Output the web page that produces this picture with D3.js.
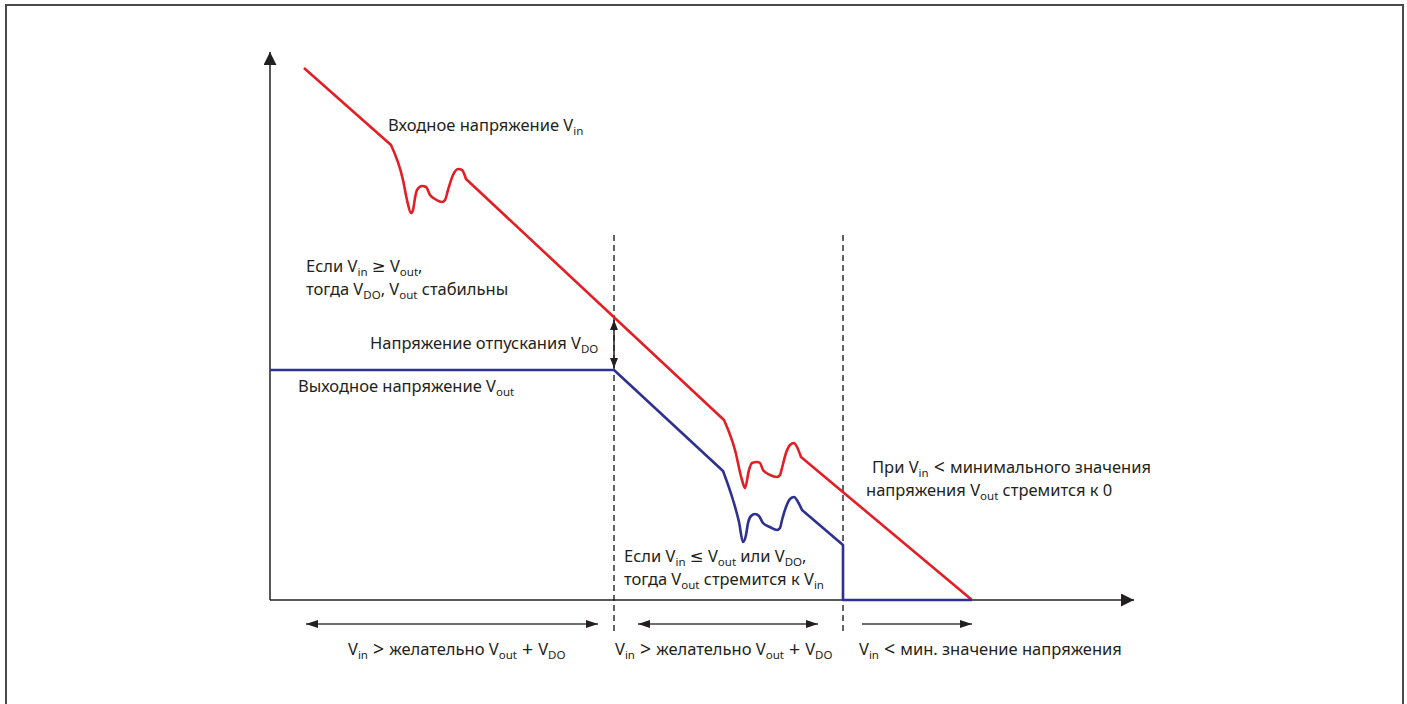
<!DOCTYPE html>
<html>
<head>
<meta charset="utf-8">
<title>LDO dropout</title>
<style>
  body { margin: 0; background: #fff; }
  text { font-family: "Noto Sans", "DejaVu Sans", sans-serif; fill: #231f20; }
</style>
</head>
<body>
<script src="https://d3js.org/d3.v7.min.js"></script>
<script>
// input voltage Vin (x = time, y = voltage, arbitrary units)
const vinX = [34, 121, 133, 137, 141, 143, 145, 147, 152, 156, 160, 165, 172, 175, 178, 183, 188, 192, 196,
              454, 465, 472, 475, 479, 482, 487, 490, 493, 500, 507, 510, 512, 516, 520, 524, 527, 531, 702];
const vinY = [532, 455, 420, 400, 387, 390, 402, 410, 414, 413, 405, 401, 398, 400, 410, 425, 431, 430, 421,
              180, 150, 120, 112, 130, 137, 138, 137, 130, 125, 123, 125, 132, 147, 155, 157, 153, 143, 0];
const vinCorners = [1, 18, 19, 36];

// output voltage Vout
const voutX = [0, 344, 453, 463, 469, 473, 476, 478, 481, 485, 489, 493, 500, 507, 510, 512, 516, 520, 524, 528, 532, 573, 573, 702];
const voutY = [230, 230, 129, 100, 78, 58, 65, 77, 84, 86, 84, 77, 73, 70, 72, 80, 93, 101, 103, 98, 90, 55, 0, 0];
const voutCorners = [1, 2, 20, 21, 22];

// region borders and ranges under the axis
const regionBorders = [344, 573];
const regionArrows = [[36, 328, true], [368, 548, true], [592, 702, false]];

const W = 1407, H = 704;
const x = d3.scaleLinear().domain([0, 860]).range([270, 1130]);
const y = d3.scaleLinear().domain([0, 548]).range([600, 52]);

const svg = d3.select("body").append("svg").attr("width", W).attr("height", H);

// frame
svg.append("rect").attr("x", 6).attr("y", 5).attr("width", 1397).attr("height", 720)
  .attr("fill", "none").attr("stroke", "#4a4a4a").attr("stroke-width", 2);

const defs = svg.append("defs");
function marker(id, w, h) {
  defs.append("marker").attr("id", id)
    .attr("viewBox", `0 0 ${w} ${h}`).attr("refX", w).attr("refY", h / 2)
    .attr("markerWidth", w).attr("markerHeight", h).attr("markerUnits", "userSpaceOnUse")
    .attr("orient", "auto-start-reverse")
    .append("path").attr("d", `M0,0L${w},${h / 2}L0,${h}Z`).attr("fill", "#231f20");
}
marker("axisHead", 13, 13);
marker("smallHead", 12, 8);
marker("vdoHead", 10, 8);

// axes
svg.append("line").attr("x1", x(0)).attr("y1", y(0)).attr("x2", x(0)).attr("y2", 52)
  .attr("stroke", "#231f20").attr("stroke-width", 1.5).attr("marker-end", "url(#axisHead)");
svg.append("line").attr("x1", x(0)).attr("y1", y(0)).attr("x2", 1134).attr("y2", y(0))
  .attr("stroke", "#231f20").attr("stroke-width", 1.5).attr("marker-end", "url(#axisHead)");

// dashed borders
svg.selectAll(".border").data(regionBorders).enter().append("line")
  .attr("x1", d => x(d)).attr("x2", d => x(d)).attr("y1", 235).attr("y2", 634)
  .attr("stroke", "#111").attr("stroke-width", 1.3).attr("stroke-dasharray", "6,4");

// range arrows
svg.selectAll(".range").data(regionArrows).enter().append("line")
  .attr("x1", d => x(d[0])).attr("x2", d => x(d[1])).attr("y1", 624).attr("y2", 624)
  .attr("stroke", "#3c3c3c").attr("stroke-width", 1.5)
  .attr("marker-start", d => d[2] ? "url(#smallHead)" : null)
  .attr("marker-end", "url(#smallHead)");

// dropout voltage arrow
svg.append("line").attr("x1", x(344)).attr("x2", x(344)).attr("y1", 320).attr("y2", 368)
  .attr("stroke", "#231f20").attr("stroke-width", 1.5)
  .attr("marker-start", "url(#vdoHead)").attr("marker-end", "url(#vdoHead)");

// curves: straight between corners, smooth in the dips
function drawSeries(xs, ys, corners, color) {
  const pts = xs.map((v, i) => [x(v), y(ys[i])]);
  const cuts = [0, ...corners, pts.length - 1];
  let d = "";
  for (let k = 0; k < cuts.length - 1; k++) {
    const part = pts.slice(cuts[k], cuts[k + 1] + 1);
    const gen = d3.line().curve(part.length > 2 ? d3.curveMonotoneX : d3.curveLinear);
    let s = gen(part);
    if (k > 0) s = "L" + s.slice(1);
    d += s;
  }
  svg.append("path").attr("d", d).attr("fill", "none").attr("stroke", color)
    .attr("stroke-width", 2.6).attr("stroke-linejoin", "round");
}
drawSeries(vinX, vinY, vinCorners, "#e31e24");
drawSeries(voutX, voutY, voutCorners, "#2e3192");

// labels with subscripts "_{...}"; the math signs < > + are drawn a bit larger
function label(px, py, str) {
  const t = svg.append("text").attr("x", px).attr("y", py).attr("font-size", 16.5);
  const parts = str.split(/(_\{[^}]*\}| [<>+] )/).filter(s => s.length);
  parts.forEach(p => {
    if (p.startsWith("_{")) {
      t.append("tspan").attr("y", py + 4).attr("font-size", 11.5).text(p.slice(2, -1));
    } else if (/^ [<>+] $/.test(p)) {
      t.append("tspan").attr("y", py + 1).attr("font-size", 19.5).text(p);
    } else {
      t.append("tspan").attr("y", py).text(p);
    }
  });
}
label(388, 131, "Входное напряжение V_{in}");
label(306, 272, "Если V_{in} ≥ V_{out},");
label(306, 295, "тогда V_{DO}, V_{out} стабильны");
label(370, 349, "Напряжение отпускания V_{DO}");
label(298, 392, "Выходное напряжение V_{out}");
label(872, 473, "При V_{in} < минимального значения");
label(866, 496, "напряжения V_{out} стремится к 0");
label(624, 562, "Если V_{in} ≤ V_{out} или V_{DO},");
label(624, 585, "тогда V_{out} стремится к V_{in}");
label(348, 655, "V_{in} > желательно V_{out} + V_{DO}");
label(615, 655, "V_{in} > желательно V_{out} + V_{DO}");
label(859, 655, "V_{in} < мин. значение напряжения");
</script>
</body>
</html>
